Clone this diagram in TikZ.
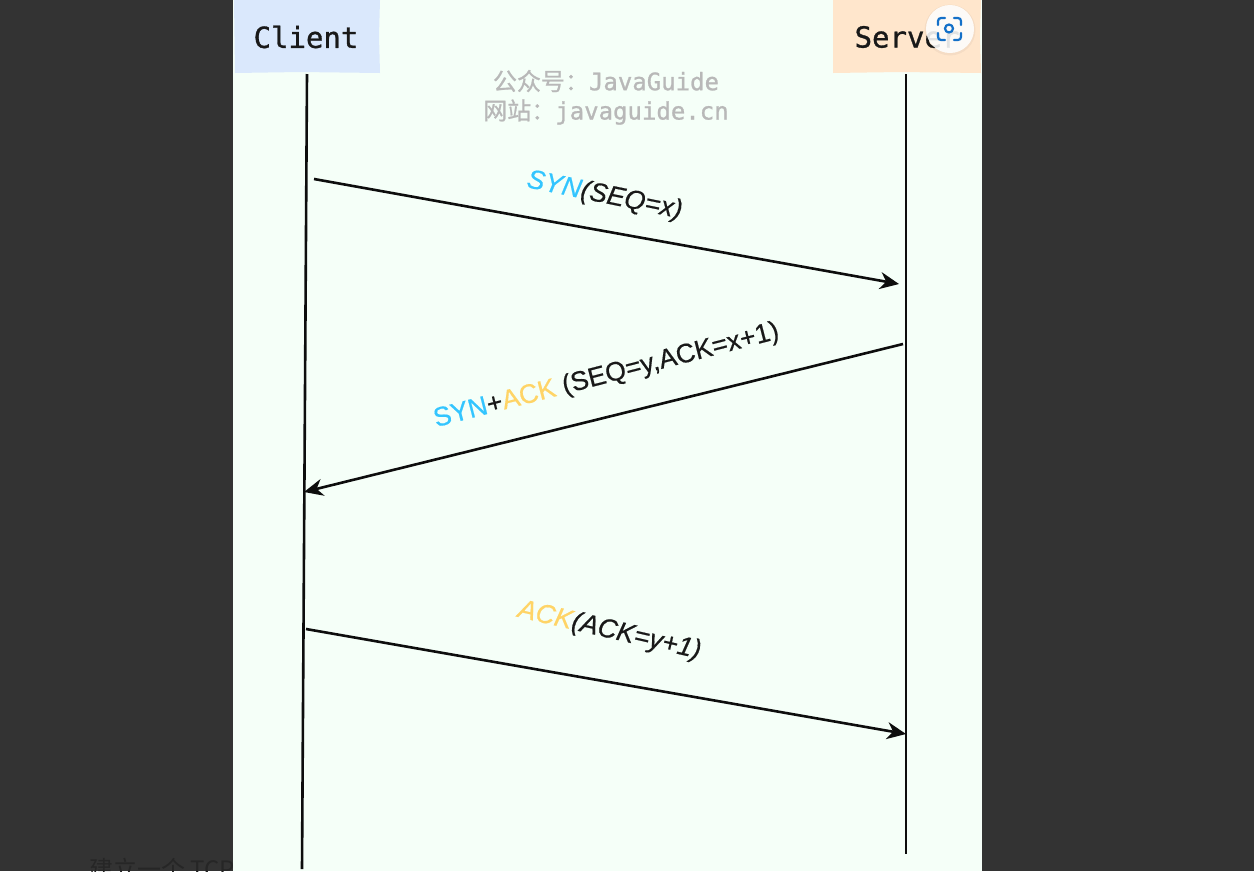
\documentclass[tikz,border=0pt]{standalone}
\usepackage{fontspec}
\setmainfont{Liberation Sans}[FakeBold=0.5]
\newfontfamily\monofam{DejaVu Sans Mono}[FakeBold=1]
\newfontfamily\markmono{DejaVu Sans Mono}[FakeBold=1]
\newfontfamily\cjkfam{Noto Sans CJK SC}[FakeBold=0.8]
\newfontfamily\paracjk{Noto Sans CJK SC}
\usetikzlibrary{arrows.meta}
\definecolor{pagedark}{HTML}{333333}
\definecolor{panelbg}{HTML}{F5FFF8}
\definecolor{clientbg}{HTML}{DAE8FC}
\definecolor{serverbg}{HTML}{FFE6CC}
\definecolor{synblue}{HTML}{33C5FF}
\definecolor{ackyellow}{HTML}{FFD466}
\definecolor{markgray}{HTML}{B8B8B8}
\definecolor{iconblue}{HTML}{1470C8}
\tikzset{
  x=1pt,y=-1pt,
  lifeline/.style={draw=black!95,line width=2.6pt},
  message/.style={draw=black!95,line width=2.6pt,-{Stealth[length=19pt,width=17pt,inset=6pt]}},
  headtext/.style={inner sep=0pt,text=black!90,font=\monofam\fontsize{29}{32}\selectfont},
  watermark/.style={inner sep=0pt,text=markgray,font=\fontsize{24}{28}\selectfont},
  msglabel/.style={inner sep=0pt,text=black!90,font=\fontsize{26.7}{30}\selectfont},
  icon/.style={draw=iconblue,line width=2.2pt,line cap=round}
}
\newcommand{\wm}[2]{{\cjkfam #1}{\markmono #2}}
\begin{document}
\begin{tikzpicture}
\useasboundingbox (0,0) rectangle (1254,871);
\fill[pagedark] (0,0) rectangle (1254,871);
\node[anchor=base west,inner sep=0pt,text=black!85,font=\paracjk\fontsize{24}{28}\selectfont] (para) at (89,878) {建立一个 TCP};
\fill[panelbg] (233,0) rectangle (982,871);
\fill[clientbg] (234,0) -- (380,0) -- (379,36) -- (380,73) -- (300,72) -- (235,73) -- cycle;
\fill[serverbg] (833,0) -- (981,0) -- (980,36) -- (981,73) -- (900,72) -- (833,73) -- cycle;
\node[headtext] (client) at (306,37) {Client};
\node[headtext] (server) at (907,37) {Server};
\node[watermark] (mark1) at (606,81) {\wm{公众号：}{JavaGuide}};
\node[watermark] (mark2) at (606,112) {\wm{网站：}{javaguide.cn}};
\coordinate (ctop) at (307,74);
\coordinate (cbot) at (302,869);
\coordinate (stop) at (906,74);
\coordinate (sbot) at (906,854);
\draw[lifeline] (ctop) -- (cbot);
\draw[lifeline] (stop) -- (sbot);
\coordinate (m1a) at (314,179);
\coordinate (m1b) at (899,284);
\coordinate (m2a) at (903,344);
\coordinate (m2b) at (304,492);
\coordinate (m3a) at (306,629);
\coordinate (m3b) at (906,734);
\draw[message] (m1a) -- (m1b);
\draw[message] (m2a) -- (m2b);
\draw[message] (m3a) -- (m3b);
\node[msglabel,rotate=-11.5] (l1) at (604.5,196) {\itshape\textcolor{synblue}{SYN}(SEQ=x)};
\node[msglabel,rotate=14.5] (l2) at (606.5,376) {\textcolor{synblue}{SYN}+\textcolor{ackyellow}{ACK} (SEQ=y,ACK=x+1)};
\node[msglabel,rotate=-13] (l3) at (609.5,631) {\itshape\textcolor{ackyellow}{ACK}(ACK=y+1)};
% floating lens button
\fill[black,opacity=.04] (950,30) circle (25.5);
\fill[white,opacity=.88] (950,29) circle (24);
\draw[icon,rounded corners=3pt] (938,25) -- (938,18) -- (945,18);
\draw[icon,rounded corners=3pt] (954,18) -- (961,18) -- (961,25);
\draw[icon,rounded corners=3pt] (938,33) -- (938,40) -- (945,40);
\draw[icon,rounded corners=3pt] (954,40) -- (961,40) -- (961,33);
\draw[icon] (949,28.5) circle (4);
\end{tikzpicture}
\end{document}
